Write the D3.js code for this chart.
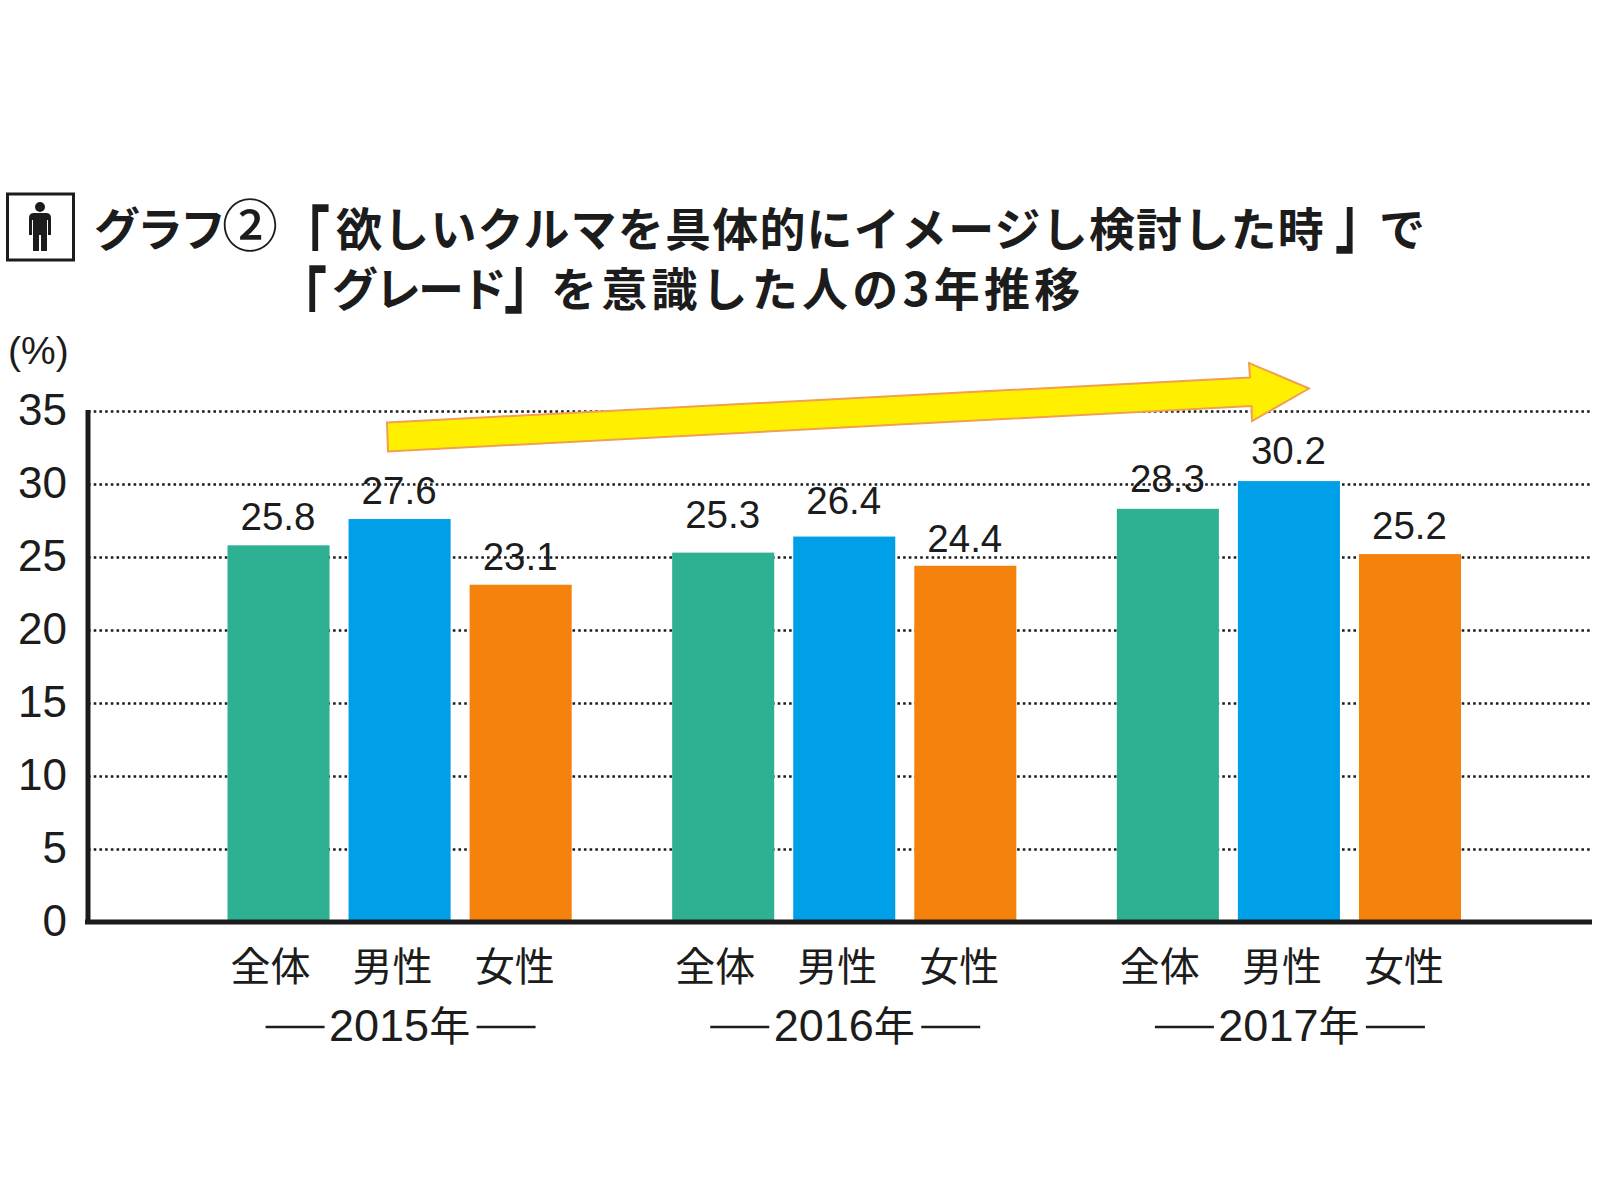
<!DOCTYPE html>
<html><head><meta charset="utf-8">
<script src="https://cdnjs.cloudflare.com/ajax/libs/d3/7.8.5/d3.min.js"></script>
<style>html,body{margin:0;background:#fff}svg{display:block}</style></head>
<body><svg id="c" width="1600" height="1200"></svg>
<script>
const years = ["2015年","2016年","2017年"];
const categories = ["全体","男性","女性"];
const values2015 = [25.8,27.6,23.1];
const values2016 = [25.3,26.4,24.4];
const values2017 = [28.3,30.2,25.2];
const colors = ["#2eb192","#00a0e9","#f5820d"];
const yTicks = [0,5,10,15,20,25,30,35];
const titleNo = "グラフ";
const titleCircle = "②";
const titleLine1 = "欲しいクルマを具体的にイメージし検討した時";
const titleEnd = "で";
const titleLine2a = "グレード";
const titleLine2b = "を意識した人の3年推移";
const series = [values2015,values2016,values2017];
const labelLift = [[15,15,15],[25,23,14],[17,17,15]];

const ink="#1c1c1c", LAT="'Liberation Sans',Arial,sans-serif", JP="'Noto Sans CJK JP',sans-serif";
const svg=d3.select("#c");
svg.append("rect").attr("width",1600).attr("height",1200).attr("fill","#fff");

const y=d3.scaleLinear().domain([0,35]).range([922,411]);
const x0=d3.scaleBand().domain(years).range([227.5,1461]).paddingInner(0.226);
const x1=d3.scaleBand().domain(categories).range([0,x0.bandwidth()]).paddingInner(0.157);

const yAxis=d3.axisLeft(y).tickValues(yTicks).tickSize(-1503).tickPadding(0);
const gy=svg.append("g").attr("transform","translate(88,0)").call(yAxis);
gy.select(".domain").remove();
gy.selectAll(".tick line").attr("stroke",ink).attr("stroke-width",2.6).attr("stroke-dasharray","2.6 3.1")
  .style("display",d=>d===0?"none":null);
gy.selectAll(".tick text").attr("x",-21).attr("dy","0.3em").attr("fill",ink)
  .style("font-family",LAT).style("font-size","44px").attr("text-anchor","end");

const groups=svg.selectAll(".grp").data(years).join("g").attr("class","grp")
  .attr("transform",d=>`translate(${x0(d)},0)`);
groups.each(function(yr,i){
  const g=d3.select(this);
  const rows=categories.map((c,j)=>({c,j,v:series[i][j]}));
  g.selectAll("rect").data(rows).join("rect")
    .attr("x",d=>x1(d.c)).attr("width",x1.bandwidth())
    .attr("y",d=>y(d.v)).attr("height",d=>y(0)-y(d.v)).attr("fill",d=>colors[d.j]);
  g.selectAll("text.v").data(rows).join("text").attr("class","v")
    .attr("x",d=>x1(d.c)+x1.bandwidth()/2-0.5).attr("y",d=>y(d.v)-labelLift[i][d.j])
    .attr("text-anchor","middle").attr("fill",ink)
    .style("font-family",LAT).style("font-size","38.5px").text(d=>d.v.toFixed(1));
  g.selectAll("text.c").data(rows).join("text").attr("class","c")
    .attr("x",d=>x1(d.c)+x1.bandwidth()/2-8+d.j*1).attr("y",981)
    .attr("text-anchor","middle").attr("fill",ink)
    .style("font-family",JP).style("font-size","40px").text(d=>d.c);
  const cx=x1("男性")+x1.bandwidth()/2;
  const t=g.append("text").attr("x",cx).attr("y",1041).attr("text-anchor","middle").attr("fill",ink);
  t.append("tspan").style("font-family",LAT).style("font-size","45px").text(yr.slice(0,4));
  t.append("tspan").style("font-family",JP).style("font-size","41px").text(yr.slice(4));
  [[-134,-75],[77,136]].forEach(([a,b])=>g.append("line").attr("x1",cx+a).attr("x2",cx+b)
     .attr("y1",1027).attr("y2",1027).attr("stroke",ink).attr("stroke-width",2.4));
});

svg.append("line").attr("x1",88).attr("x2",88).attr("y1",410).attr("y2",924).attr("stroke",ink).attr("stroke-width",5);
svg.append("line").attr("x1",85).attr("x2",1592).attr("y1",y(0)).attr("y2",y(0)).attr("stroke",ink).attr("stroke-width",5);

svg.append("polygon").attr("points","387,422.5 1250,377.5 1249,363 1309,388.5 1252,421 1251.5,406 388,451.5")
  .attr("fill","#fff000").attr("stroke","#f0a050").attr("stroke-width",2);

svg.append("text").attr("x",8).attr("y",364).attr("fill",ink).style("font-family",LAT).style("font-size","39px").text("(%)");

svg.append("rect").attr("x",7.5).attr("y",194).attr("width",66).attr("height",66).attr("fill","#fff").attr("stroke",ink).attr("stroke-width",3);
const ic=svg.append("g").attr("fill",ink);
ic.append("circle").attr("cx",40).attr("cy",207).attr("r",5);
ic.append("path").attr("d","M34,213 H46 Q51,213 51,218 V235 H48 V220 H47 V251 H41 V235 H39 V251 H33 V220 H32 V235 H29 V218 Q29,213 34,213 Z");

function tt(x,y0,s,ls,size,w){svg.append("text").attr("x",x).attr("y",y0).attr("fill",ink)
  .style("font-family",JP).style("font-weight",w||700).style("font-size",(size||46)+"px").style("letter-spacing",ls+"px").text(s);}
function br(x,y0,s){svg.append("text").attr("transform",`translate(${x},${y0}) scale(0.68,1)`).attr("fill",ink)
  .style("font-family",JP).style("font-weight",700).style("font-size","72px").text(s);}
tt(94,246,titleNo,-3);
tt(222,246,titleCircle,0,56,500);
br(281,266,"「");
tt(336,246,titleLine1,1.2);
br(1335,246,"」");
tt(1379,246,titleEnd,0);
br(278,327,"「");
tt(332,306,titleLine2a,-3);
br(504,306,"」");
tt(551,306,titleLine2b,4.2);
</script></body></html>
